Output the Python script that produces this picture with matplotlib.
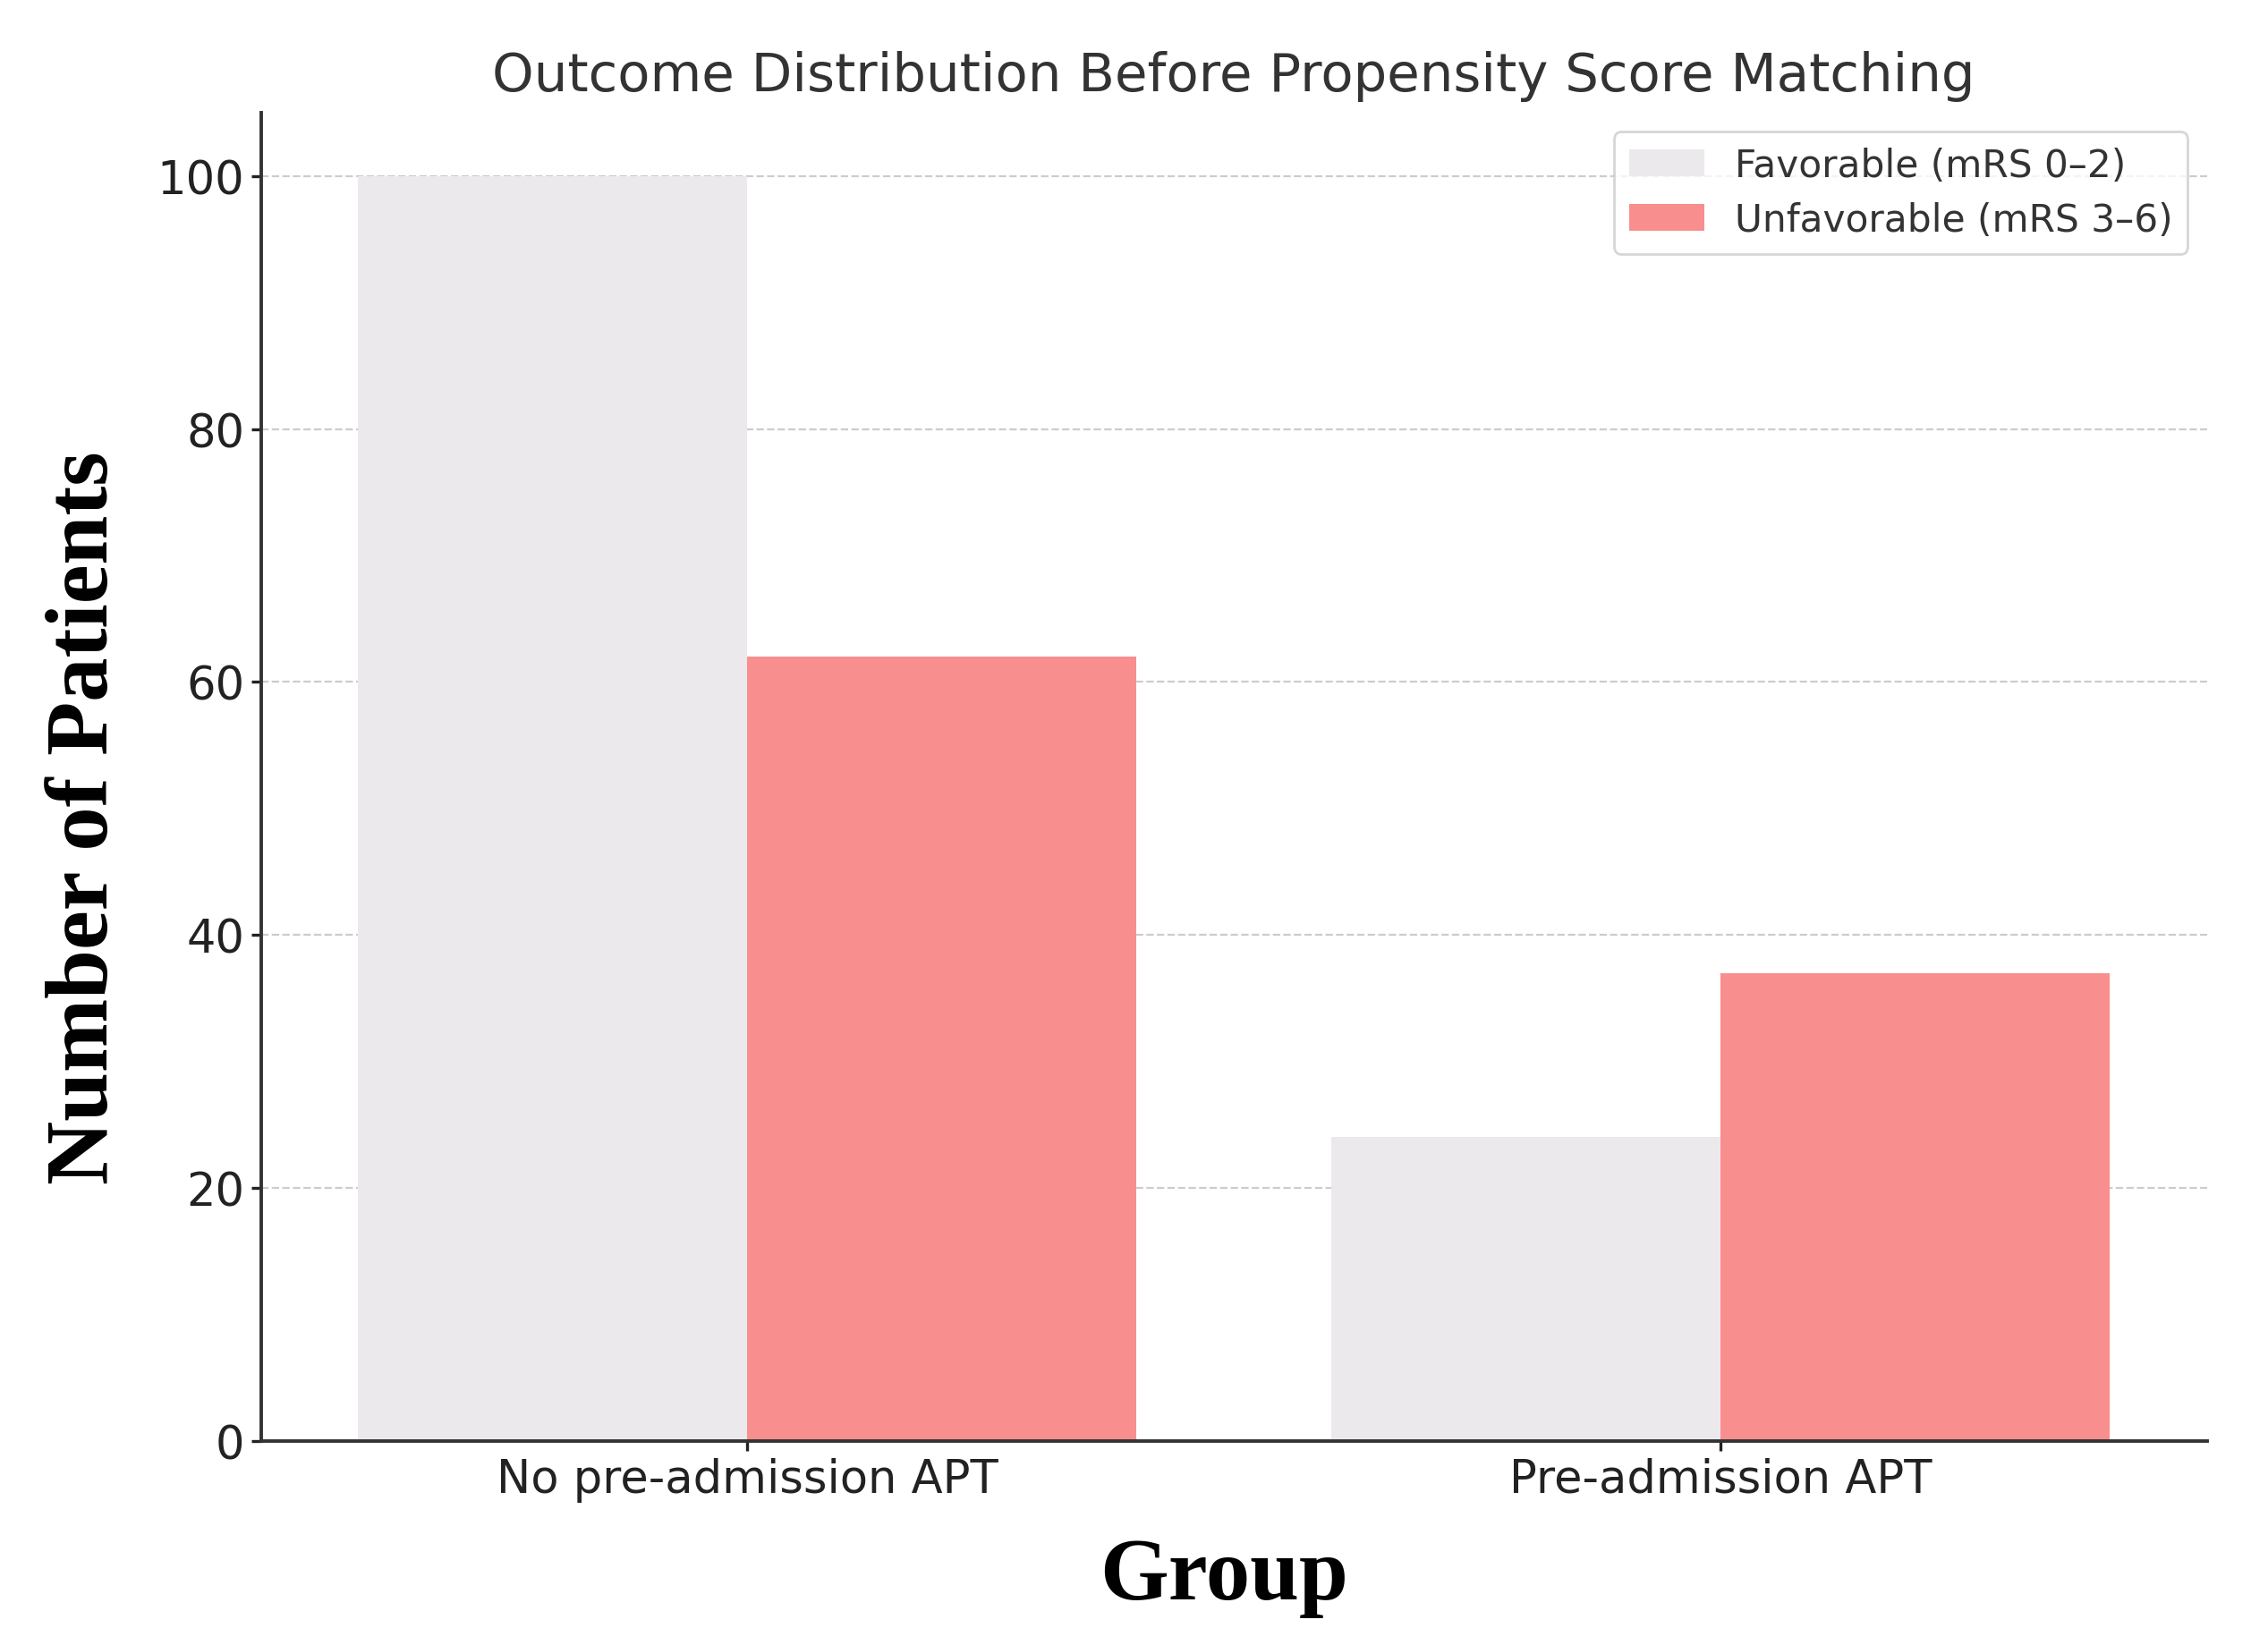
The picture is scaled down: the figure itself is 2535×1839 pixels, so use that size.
import numpy as np
import matplotlib
matplotlib.use("Agg")
import matplotlib.pyplot as plt

# Dados
grupos = ["No pre-admission APT", "Pre-admission APT"]
favoravel = [100, 24]
desfavoravel = [62, 37]
rotulos = ["Favorable (mRS 0–2)", "Unfavorable (mRS 3–6)"]

COR_FAV = "#ECE9EC"
COR_DES = "#F98E8E"
LARGURA = 0.4

fig, ax = plt.subplots(figsize=(12.675, 9.2), dpi=200)
fig.subplots_adjust(left=0.115, right=0.973, top=0.931, bottom=0.124)

x = np.arange(len(grupos))
ax.bar(x - LARGURA / 2, favoravel, LARGURA, color=COR_FAV, label=rotulos[0], zorder=2)
ax.bar(x + LARGURA / 2, desfavoravel, LARGURA, color=COR_DES, label=rotulos[1], zorder=2)

ax.set_xlim(-0.5, 1.5)
ax.set_ylim(0, 105)
ax.set_yticks([0, 20, 40, 60, 80, 100])
ax.set_xticks(x)
ax.set_xticklabels(grupos)
ax.tick_params(labelsize=18.4, colors="#222222", width=1.2, length=4, pad=2.5)

ax.grid(axis="y", linestyle="--", color="#cccccc", linewidth=0.8, zorder=0)
ax.set_axisbelow(True)

for lado in ["top", "right"]:
    ax.spines[lado].set_visible(False)
for lado in ["left", "bottom"]:
    ax.spines[lado].set_linewidth(1.4)
    ax.spines[lado].set_color("#333333")

ax.set_title("Outcome Distribution Before Propensity Score Matching",
             fontsize=21.4, color="#333333", pad=9)
ax.set_xlabel("Group", fontsize=35.5, fontweight="bold",
              family="Liberation Serif", labelpad=14)
ax.set_ylabel("Number of Patients", fontsize=35.5, fontweight="bold",
              family="Liberation Serif")
ax.yaxis.set_label_coords(-0.069, 0.47)
ax.xaxis.set_label_coords(0.495, -0.072)

leg = ax.legend(loc="upper right", fontsize=15.2, frameon=True,
                borderpad=0.4, labelspacing=0.45, handlelength=2.0, handleheight=0.7)
leg.get_frame().set_edgecolor("#cccccc")
for t in leg.get_texts():
    t.set_color("#333333")

plt.savefig("out.png", dpi=200)
